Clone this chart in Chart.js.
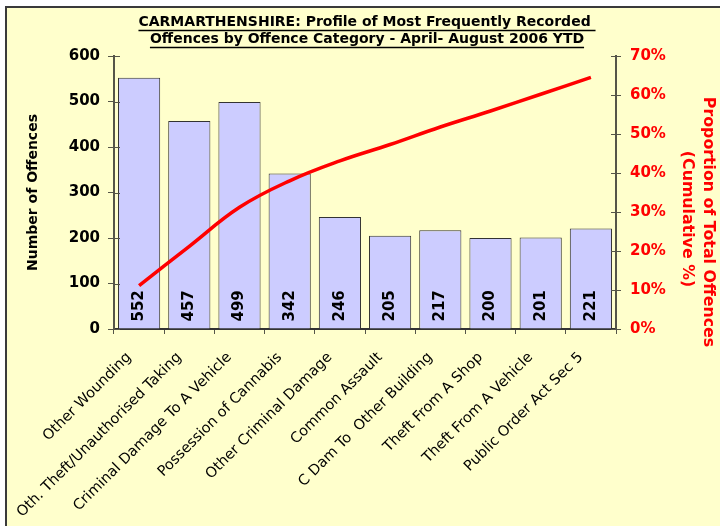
<!DOCTYPE html>
<html>
<head>
<meta charset="utf-8">
<script src="https://cdn.jsdelivr.net/npm/chart.js@4/dist/chart.umd.min.js"></script>
<style>
html,body{margin:0;padding:0;background:#ffffff;}
#wrap{width:720px;height:526px;}
</style>
</head>
<body>
<div id="wrap"><canvas id="c" width="720" height="526"></canvas></div>
<script>
// ---- data ----
const categories = [
  'Other Wounding',
  'Oth. Theft/Unauthorised Taking',
  'Criminal Damage To A Vehicle',
  'Possession of Cannabis',
  'Other Criminal Damage',
  'Common Assault',
  'C Dam To  Other Building',
  'Theft From A Shop',
  'Theft From A Vehicle',
  'Public Order Act Sec 5'
];
const offences = [552, 457, 499, 342, 246, 205, 217, 200, 201, 221];
const cumulativePct = [11.1, 21.2, 31.2, 38.0, 43.1, 47.3, 51.8, 55.9, 60.2, 64.5];
const countTicks = [0, 100, 200, 300, 400, 500, 600];
const pctTicks = [0, 10, 20, 30, 40, 50, 60, 70];
const titleLines = [
  'CARMARTHENSHIRE: Profile of Most Frequently Recorded ',
  'Offences by Offence Category - April- August 2006 YTD'
];
const leftAxisTitle = 'Number of Offences';
const rightAxisTitle = ['Proportion of Total Offences', '(Cumulative %)'];

// ---- style ----
const F = '"DejaVu Sans", Verdana, sans-serif';
const AX = '#555548';

const bgPlugin = {
  id: 'bg',
  beforeDraw(chart) {
    const ctx = chart.ctx;
    ctx.save();
    ctx.fillStyle = '#ffffff';
    ctx.fillRect(0, 0, chart.width, chart.height);
    ctx.fillStyle = '#FFFFCC';
    ctx.fillRect(5, 6, chart.width - 5, chart.height - 6);
    ctx.fillStyle = '#3a3a3a';
    ctx.fillRect(5, 6, 2, chart.height - 6);
    ctx.fillRect(5, 6, chart.width - 5, 2);
    ctx.restore();
  }
};

const decoPlugin = {
  id: 'deco',
  afterDraw(chart) {
    const ctx = chart.ctx;
    ctx.save();
    // title with underline
    ctx.fillStyle = '#000';
    ctx.strokeStyle = '#000';
    ctx.font = 'bold 14px ' + F;
    ctx.textAlign = 'center';
    ctx.textBaseline = 'middle';
    const cx = 367;
    const ys = [22.5, 39.5];
    titleLines.forEach((t, i) => {
      ctx.fillText(t, cx, ys[i]);
      const w = ctx.measureText(t).width;
      ctx.lineWidth = 1.5;
      ctx.beginPath();
      ctx.moveTo(cx - w / 2, ys[i] + 8);
      ctx.lineTo(cx + w / 2, ys[i] + 8);
      ctx.stroke();
    });
    // right axis title
    ctx.fillStyle = '#FF0000';
    ctx.font = 'bold 15.8px ' + F;
    const rx = [708, 687];
    const ry = [222, 219];
    rightAxisTitle.forEach((t, i) => {
      ctx.save();
      ctx.translate(rx[i], ry[i]);
      ctx.rotate(Math.PI / 2);
      ctx.fillText(t, 0, 0);
      ctx.restore();
    });
    // inner (cross) tick marks
    ctx.strokeStyle = AX;
    ctx.lineWidth = 1;
    const y = chart.scales.y, y1 = chart.scales.y1;
    countTicks.forEach(v => {
      const p = Math.round(y.getPixelForValue(v)) + 0.5;
      ctx.beginPath(); ctx.moveTo(y.right, p); ctx.lineTo(y.right + 6, p); ctx.stroke();
    });
    pctTicks.forEach(v => {
      const p = Math.round(y1.getPixelForValue(v)) + 0.5;
      ctx.beginPath(); ctx.moveTo(y1.left - 5, p); ctx.lineTo(y1.left, p); ctx.stroke();
    });
    // bar value labels
    const meta = chart.getDatasetMeta(1);
    ctx.fillStyle = '#000';
    ctx.font = 'bold 15px ' + F;
    ctx.textAlign = 'left';
    ctx.textBaseline = 'middle';
    meta.data.forEach((el, i) => {
      ctx.save();
      ctx.translate(el.x, el.base - 7);
      ctx.rotate(-Math.PI / 2);
      ctx.fillText(String(offences[i]), 0, 0);
      ctx.restore();
    });
    ctx.restore();
  }
};

new Chart(document.getElementById('c'), {
  data: {
    labels: categories,
    datasets: [
      {
        type: 'line',
        label: 'Cumulative %',
        data: cumulativePct,
        yAxisID: 'y1',
        borderColor: '#FF0000',
        borderWidth: 3.5,
        pointRadius: 0,
        tension: 0.4,
        fill: false,
        order: 0
      },
      {
        type: 'bar',
        label: 'Number of Offences',
        data: offences,
        yAxisID: 'y',
        backgroundColor: '#CCCCFF',
        borderColor: '#333333',
        borderWidth: 1,
        barPercentage: 0.84,
        categoryPercentage: 1.0,
        order: 1
      }
    ]
  },
  options: {
    responsive: false,
    devicePixelRatio: 1,
    animation: false,
    layout: { padding: { left: 10, right: 0, top: 56, bottom: 0 } },
    plugins: {
      legend: { display: false },
      tooltip: { enabled: false },
      title: { display: false }
    },
    scales: {
      x: {
        type: 'category',
        offset: true,
        grid: { offset: true, drawOnChartArea: false, drawTicks: true, tickLength: 5, color: AX },
        border: { display: true, color: '#333333', width: 2 },
        ticks: {
          autoSkip: false, minRotation: 45, maxRotation: 45,
          color: '#000', font: { family: F, size: 14.5 }, padding: 15, labelOffset: -10
        },
        afterFit(s) { s.height = 197; }
      },
      y: {
        position: 'left',
        min: 0, max: 600,
        afterBuildTicks(s) { s.ticks = countTicks.map(v => ({ value: v })); },
        ticks: { color: '#000', font: { family: F, size: 15, weight: 'bold' }, padding: 8 },
        grid: { drawOnChartArea: false, drawTicks: true, tickLength: 6, color: AX },
        border: { display: true, color: AX, width: 2 },
        title: {
          display: true, text: leftAxisTitle, color: '#000',
          font: { family: F, size: 14, weight: 'bold' },
          padding: { top: 14.6, bottom: 0 }
        },
        afterFit(s) { s.width = 104; }
      },
      y1: {
        position: 'right',
        min: 0, max: 70,
        afterBuildTicks(s) { s.ticks = pctTicks.map(v => ({ value: v })); },
        ticks: {
          color: '#FF0000', font: { family: F, size: 15, weight: 'bold' }, padding: 9,
          callback: v => v + '%'
        },
        grid: { drawOnChartArea: false, drawTicks: true, tickLength: 5, color: AX },
        border: { display: true, color: AX, width: 2 },
        afterFit(s) { s.width = 104; }
      }
    }
  },
  plugins: [bgPlugin, decoPlugin]
});
</script>
</body>
</html>
